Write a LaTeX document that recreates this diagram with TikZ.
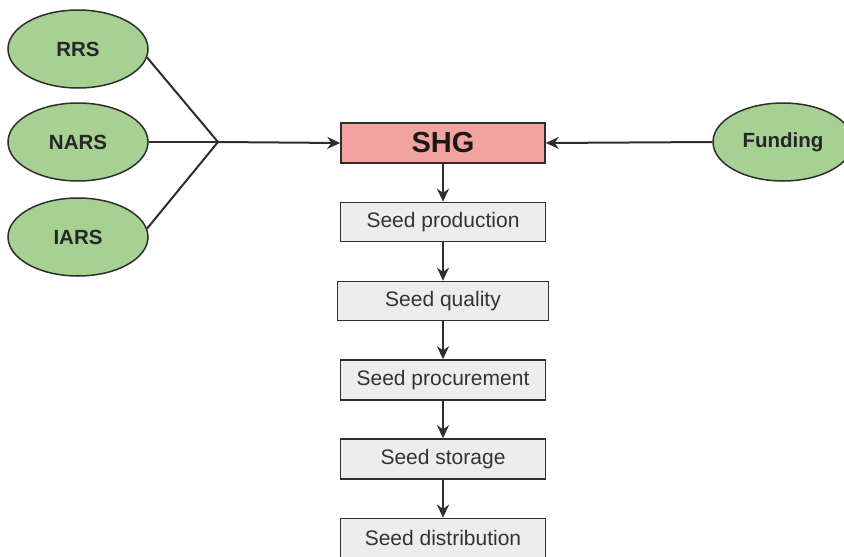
\documentclass[tikz,border=0pt]{standalone}
\usepackage{fontspec}
\setmainfont{Liberation Sans}
\usetikzlibrary{shapes.geometric,arrows.meta}
\definecolor{ellfill}{HTML}{A6D193}
\definecolor{shgfill}{HTML}{F2A3A0}
\definecolor{boxfill}{HTML}{EDEDED}
\definecolor{linec}{HTML}{2E2E2E}
\tikzset{
  src/.style={ellipse,draw=linec,line width=1.5pt,fill=ellfill,minimum width=140pt,minimum height=78pt,inner sep=0pt,font=\fontsize{20.5}{22}\selectfont\bfseries,text=black!85},
  stepbox/.style={rectangle,draw=linec,line width=1.6pt,fill=boxfill,minimum width=205pt,minimum height=39pt,inner sep=0pt,font=\fontsize{21}{22}\selectfont,text=black!80},
  conn/.style={draw=linec,line width=2pt},
  arr/.style={conn,-{Stealth[length=13pt,width=12pt]}}
}
\begin{document}
\begin{tikzpicture}[x=1pt,y=-1pt]
\useasboundingbox[fill=white] (0,0) rectangle (844,557);
\node[src] (rrs) at (78,49) {RRS};
\node[src] (nars) at (78,142) {NARS};
\node[src] (iars) at (78,237) {IARS};
\node[src] (fund) at (783,142) {Funding};
\node[stepbox,fill=shgfill,minimum width=204pt,minimum height=40pt,font=\fontsize{29}{30}\selectfont\bfseries,text=black!90] (shg) at (443,143) {SHG};
\node[stepbox] (prod) at (443,222) {Seed production};
\node[stepbox,minimum width=211pt] (qual) at (443,301) {Seed quality};
\node[stepbox,minimum height=40pt] (proc) at (443,380) {Seed procurement};
\node[stepbox,minimum height=40pt] (stor) at (443,459) {Seed storage};
\node[stepbox] (dist) at (443,538) {Seed distribution};
\coordinate (j) at (218,142);
\draw[conn] (rrs.-7) -- (j);
\draw[conn] (iars.7) -- (j);
\draw[conn] (nars.east) -- (j);
\draw[arr] (j) -- (shg.west);
\draw[arr] (fund.west) -- (shg.east);
\draw[arr] (shg) -- (prod);
\draw[arr] (prod) -- (qual);
\draw[arr] (qual) -- (proc);
\draw[arr] (proc) -- (stor);
\draw[arr] (stor) -- (dist);
\end{tikzpicture}
\end{document}
